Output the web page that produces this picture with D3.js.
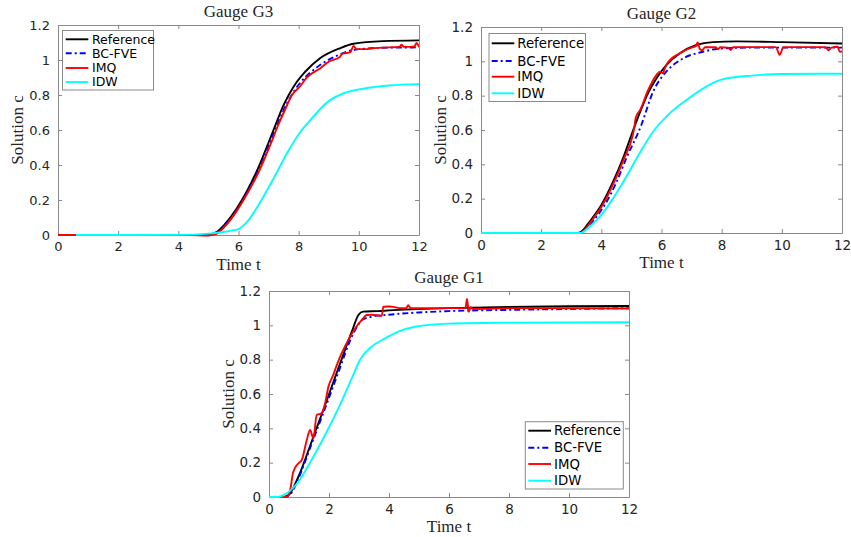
<!DOCTYPE html>
<html lang="en">
<head>
<meta charset="utf-8">
<title>Gauges G1 G2 G3</title>
<script src="https://d3js.org/d3.v7.min.js"></script>
<style>
    body { margin: 0; background: #fff; }
    svg { display: block; }
    .tick-label { font-family: "DejaVu Sans", sans-serif; fill: #262626; }
    .serif { font-family: "Liberation Serif", "Times New Roman", serif; fill: #262626; }
</style>
</head>
<body>
<div id="chart"></div>

<script>
    // ---- data (t, c) ----
    var seriesNames = ["Reference", "BC-FVE", "IMQ", "IDW"]
    var xTicks = [0, 2, 4, 6, 8, 10, 12]
    var yTicks = [0, 0.2, 0.4, 0.6, 0.8, 1, 1.2]

    // Gauge G3
    var g3Ref = [[0.6,0],[4.5,0],[5.0,0.003],[5.3,0.02],[5.52,0.057],[5.94,0.152],[6.27,0.248],[6.55,0.343],[6.79,0.438],[7.01,0.533],[7.23,0.629],[7.45,0.724],[7.67,0.8],[7.94,0.876],[8.2,0.93],[8.71,1.01],[9.37,1.067],[9.82,1.093],[10.8,1.108],[12,1.112]]
    var g3Bc = [[0.6,0],[4.5,0],[5.0,0.002],[5.3,0.015],[5.55,0.055],[5.97,0.15],[6.3,0.245],[6.58,0.34],[6.83,0.435],[7.05,0.53],[7.28,0.625],[7.5,0.715],[7.75,0.795],[8.05,0.87],[8.4,0.93],[8.71,0.971],[9.37,1.032],[9.82,1.057],[10.8,1.07],[12,1.072]]
    var g3Imq = [[0,0],[4.3,0],[5.0,-0.003],[5.25,0.005],[5.55,0.05],[5.97,0.145],[6.3,0.24],[6.6,0.335],[6.85,0.43],[7.08,0.525],[7.3,0.62],[7.53,0.71],[7.78,0.8],[8.05,0.85],[8.27,0.9],[8.71,0.952],[9.0,0.99],[9.37,1.018],[9.45,1.035],[9.72,1.045],[9.82,1.08],[9.92,1.062],[10.2,1.062],[10.5,1.068],[11.0,1.072],[11.35,1.075],[11.42,1.087],[11.5,1.075],[11.85,1.078],[11.92,1.097],[12,1.075]]
    var g3Idw = [[0.6,0],[4.0,0.001],[5.0,0.008],[5.5,0.017],[5.85,0.028],[6.0,0.034],[6.29,0.076],[6.73,0.19],[7.17,0.324],[7.61,0.467],[8.06,0.59],[8.39,0.657],[9.0,0.765],[9.5,0.81],[10.0,0.832],[10.5,0.845],[11,0.854],[12,0.862]]

    // Gauge G2
    var g2Ref = [[0,0],[3.2,0],[3.35,0.01],[3.61,0.066],[4.0,0.163],[4.39,0.299],[4.72,0.435],[5.0,0.571],[5.27,0.697],[5.55,0.813],[5.83,0.9],[6.16,0.978],[6.6,1.046],[7.16,1.095],[7.71,1.112],[8.5,1.116],[10,1.112],[12,1.104]]
    var g2Bc = [[0,0],[3.25,0],[3.4,0.01],[3.7,0.065],[4.11,0.163],[4.5,0.295],[4.83,0.435],[5.33,0.629],[5.72,0.823],[6.16,0.94],[6.72,1.017],[7.38,1.056],[8.0,1.075],[9,1.08],[12,1.08]]
    var g2Imq = [[0,0],[3.3,0],[3.5,0.03],[3.65,0.065],[4.03,0.16],[4.42,0.295],[4.75,0.432],[5.03,0.56],[5.11,0.63],[5.14,0.67],[5.3,0.72],[5.55,0.83],[5.83,0.92],[5.95,0.94],[6.05,0.93],[6.1,0.955],[6.2,0.99],[6.6,1.046],[7.0,1.08],[7.15,1.09],[7.2,1.11],[7.28,1.07],[7.35,1.065],[7.45,1.082],[7.8,1.082],[7.88,1.07],[7.95,1.082],[8.22,1.08],[8.3,1.066],[8.38,1.082],[9.0,1.083],[9.8,1.083],[9.93,1.038],[10.05,1.082],[11.0,1.083],[11.45,1.082],[11.55,1.065],[11.65,1.08],[11.85,1.085],[11.93,1.055],[12,1.06]]
    var g2Idw = [[0,0],[3.3,0],[3.61,0.037],[4.0,0.105],[4.39,0.202],[4.83,0.328],[5.27,0.464],[5.72,0.59],[6.16,0.678],[6.83,0.775],[7.49,0.853],[7.94,0.891],[9,0.917],[10,0.926],[12,0.928]]

    // Gauge G1
    var g1Ref = [[0,0],[0.5,0],[0.7,0.02],[0.98,0.118],[1.42,0.322],[1.87,0.536],[2.31,0.749],[2.76,0.963],[2.98,1.06],[3.14,1.08],[3.64,1.083],[4,1.087],[6,1.1],[8,1.107],[10,1.111],[12,1.113]]
    var g1Bc = [[0,0],[0.5,0],[0.7,0.015],[0.98,0.108],[1.42,0.31],[1.87,0.517],[2.31,0.725],[2.76,0.934],[3.0,1.01],[3.09,1.03],[3.42,1.05],[4,1.062],[5,1.075],[6,1.083],[8,1.09],[10,1.095],[12,1.1]]
    var g1Imq = [[0,0],[0.6,0],[0.7,0.035],[0.81,0.147],[0.98,0.196],[1.09,0.215],[1.26,0.332],[1.37,0.39],[1.48,0.342],[1.59,0.478],[1.76,0.487],[1.87,0.545],[1.98,0.642],[2.14,0.71],[2.26,0.768],[2.42,0.836],[2.64,0.914],[2.87,0.982],[3.09,1.03],[3.26,1.06],[3.42,1.062],[3.76,1.056],[3.81,1.108],[4.03,1.11],[4.2,1.105],[4.4,1.1],[4.58,1.1],[4.64,1.118],[4.72,1.1],[5.0,1.1],[6.0,1.1],[6.55,1.1],[6.6,1.153],[6.66,1.079],[6.72,1.105],[6.8,1.095],[8,1.1],[10,1.1],[12,1.098]]
    var g1Idw = [[0,0],[0.3,0],[0.53,0.015],[0.98,0.089],[1.42,0.216],[1.87,0.361],[2.31,0.516],[2.76,0.691],[3.03,0.798],[3.42,0.876],[3.87,0.924],[4.31,0.963],[4.87,0.992],[6,1.01],[8,1.015],[12,1.018]]

    // ---- styles ----
    var colors = ["#000000", "#0000ff", "#ff0000", "#00ffff"]
    var dashes = [null, "6,3,2,3", null, null]

    var svg = d3.select("#chart").append("svg")
        .attr("width", 851)
        .attr("height", 537)

    // panel boxes and legend placement (page pixels)
    var panels = [
        { title: "Gauge G3", data: [g3Ref, g3Bc, g3Imq, g3Idw], left: 58, right: 419, top: 25, bottom: 235, fs: 13,
          legend: { x: 62.5, y: 30.5, w: 91, h: 59.5, rows: [39.3, 53.3, 68, 82], line: [65.7, 88.3], text: 92, fs: 12.5 } },
        { title: "Gauge G2", data: [g2Ref, g2Bc, g2Imq, g2Idw], left: 481, right: 842, top: 27, bottom: 233, fs: 13.5,
          legend: { x: 489, y: 33.5, w: 96.5, h: 68, rows: [43.3, 61, 76.7, 93.3], line: [491.7, 514.3], text: 517.3, fs: 13.3 } },
        { title: "Gauge G1", data: [g1Ref, g1Bc, g1Imq, g1Idw], left: 269, right: 629, top: 291, bottom: 497, fs: 13.5,
          legend: { x: 525.3, y: 421.7, w: 98, h: 67.3, rows: [430.7, 447.7, 464, 480.7], line: [528.3, 551], text: 554, fs: 13.3 } }
    ]

    panels.forEach(function (p) {
        var x = d3.scaleLinear().domain([0, 12]).range([p.left, p.right])
        var y = d3.scaleLinear().domain([0, 1.2]).range([p.bottom, p.top])
        var g = svg.append("g")

        // clip for the lines
        var clipId = "clip" + p.title.replace(/ /g, "")
        svg.append("clipPath").attr("id", clipId)
            .append("rect")
            .attr("x", p.left).attr("y", p.top - 2)
            .attr("width", p.right - p.left).attr("height", p.bottom - p.top + 4)

        // axes (inward ticks, mirrored on top/right)
        var axisStyle = function (sel) {
            sel.select(".domain").attr("stroke", "#8a8a8a")
            sel.selectAll(".tick line").attr("stroke", "#8a8a8a")
            sel.selectAll(".tick text")
                .attr("class", "tick-label")
                .style("font-size", p.fs + "px")
        }
        g.append("g").attr("transform", "translate(0," + p.bottom + ")")
            .call(d3.axisBottom(x).tickValues(xTicks).tickSize(-4).tickPadding(7).tickSizeOuter(0).tickFormat(d3.format("d")))
            .call(axisStyle)
        g.append("g").attr("transform", "translate(0," + p.top + ")")
            .call(d3.axisTop(x).tickValues(xTicks).tickSize(-4).tickSizeOuter(0).tickFormat(""))
            .call(axisStyle)
        g.append("g").attr("transform", "translate(" + p.left + ",0)")
            .call(d3.axisLeft(y).tickValues(yTicks).tickSize(-4).tickPadding(8).tickSizeOuter(0).tickFormat(d3.format("~g")))
            .call(axisStyle)
        g.append("g").attr("transform", "translate(" + p.right + ",0)")
            .call(d3.axisRight(y).tickValues(yTicks).tickSize(-4).tickSizeOuter(0).tickFormat(""))
            .call(axisStyle)

        // the four curves
        var line = d3.line()
            .x(function (d) { return x(d[0]) })
            .y(function (d) { return y(d[1]) })
            .curve(d3.curveMonotoneX)

        p.data.forEach(function (s, i) {
            g.append("path")
                .datum(s)
                .attr("clip-path", "url(#" + clipId + ")")
                .attr("fill", "none")
                .attr("stroke", colors[i])
                .attr("stroke-width", 1.9)
                .attr("stroke-dasharray", dashes[i])
                .attr("d", line)
        })

        // title and axis labels
        g.append("text").attr("class", "serif")
            .attr("x", (p.left + p.right) / 2).attr("y", p.top - 8)
            .attr("text-anchor", "middle").style("font-size", "17px")
            .text(p.title)
        g.append("text").attr("class", "serif")
            .attr("x", (p.left + p.right) / 2).attr("y", p.bottom + 35)
            .attr("text-anchor", "middle").style("font-size", "17px")
            .text("Time t")
        g.append("text").attr("class", "serif")
            .attr("transform", "translate(" + (p.left - 35) + "," + ((p.top + p.bottom) / 2) + ") rotate(-90)")
            .attr("text-anchor", "middle").style("font-size", "17px")
            .text("Solution c")

        // legend
        var L = p.legend
        var lg = g.append("g")
        lg.append("rect")
            .attr("x", L.x).attr("y", L.y).attr("width", L.w).attr("height", L.h)
            .attr("fill", "#fff").attr("stroke", "#8a8a8a").attr("stroke-width", 1)
        seriesNames.forEach(function (name, i) {
            lg.append("line")
                .attr("x1", L.line[0]).attr("x2", L.line[1])
                .attr("y1", L.rows[i]).attr("y2", L.rows[i])
                .attr("stroke", colors[i]).attr("stroke-width", 1.9)
                .attr("stroke-dasharray", dashes[i])
            lg.append("text")
                .attr("class", "tick-label")
                .attr("x", L.text).attr("y", L.rows[i])
                .attr("dy", "0.35em")
                .style("font-size", L.fs + "px")
                .style("fill", "#000")
                .text(name)
        })
    })
</script>
</body>
</html>
